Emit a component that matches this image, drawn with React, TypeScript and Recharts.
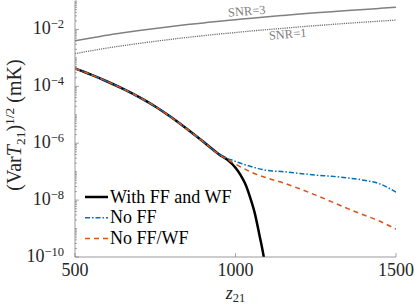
import { LineChart, Line, XAxis, YAxis, Legend, LabelList } from 'recharts';

// redshift grid shared by most curves
const zGrid = [500, 550, 600, 650, 700, 750, 800, 850, 900, 950, 1000, 1050, 1100, 1150, 1200, 1250, 1300, 1350, 1400, 1450, 1500];

// noise levels (mK)
const snr3 = [3.98e-3, 5.0e-3, 6.25e-3, 7.6e-3, 9.1e-3, 1.08e-2, 1.27e-2, 1.48e-2, 1.7e-2, 1.95e-2, 2.2e-2, 2.49e-2, 2.79e-2, 3.11e-2, 3.46e-2, 3.83e-2, 4.22e-2, 4.64e-2, 5.07e-2, 5.52e-2, 6.0e-2];
const snr1 = [1.41e-3, 1.78e-3, 2.22e-3, 2.7e-3, 3.23e-3, 3.83e-3, 4.5e-3, 5.25e-3, 6.04e-3, 6.92e-3, 7.8e-3, 8.84e-3, 9.9e-3, 1.1e-2, 1.23e-2, 1.36e-2, 1.5e-2, 1.65e-2, 1.8e-2, 1.96e-2, 2.13e-2];

// signal curves
const noFF = [4.27e-4, 2.57e-4, 1.48e-4, 8.13e-5, 4.17e-5, 1.95e-5, 8.13e-6, 3.09e-6, 1.12e-6, 3.98e-7, 2.3e-7, 1.5e-7, 1.1e-7, 1.0e-7, 8.7e-8, 7.6e-8, 6.9e-8, 6.0e-8, 5.0e-8, 3.7e-8, 1.9e-8];
const noFFWF = [4.27e-4, 2.57e-4, 1.48e-4, 8.13e-5, 4.17e-5, 1.95e-5, 8.13e-6, 3.09e-6, 1.12e-6, 3.98e-7, 1.85e-7, 9.5e-8, 5.9e-8, 4.0e-8, 2.5e-8, 1.5e-8, 8.7e-9, 5.0e-9, 3.0e-9, 1.8e-9, 9.5e-10];
const zWithFF = [500, 550, 600, 650, 700, 750, 800, 850, 900, 950, 975, 1000, 1015, 1030, 1045, 1060, 1075, 1088, 1095];
const withFF = [4.27e-4, 2.57e-4, 1.48e-4, 8.13e-5, 4.17e-5, 1.95e-5, 8.13e-6, 3.09e-6, 1.12e-6, 3.98e-7, 2.6e-7, 1.38e-7, 7.9e-8, 3.8e-8, 1.3e-8, 3.5e-9, 5.6e-10, 1.0e-10, 3.0e-11];

const xTicks = [500, 1000, 1500];
const yMajorTicks = [1e-10, 1e-8, 1e-6, 1e-4, 1e-2];
const yTickExponents = ['\u221210', '\u22128', '\u22126', '\u22124', '\u22122'];

const legendKeys = ['withFF', 'noFF', 'noFFWF'];
const legendNames = ['With FF and WF', 'No FF', 'No FF/WF'];

const gridData = zGrid.map((z, i) => ({ z, snr3: snr3[i], snr1: snr1[i], noFF: noFF[i], noFFWF: noFFWF[i] }));
const withFFData = zWithFF.map((z, i) => ({ z, withFF: withFF[i] }));

// log ticks, 1..9 in each decade
const yAllTicks: number[] = [];
for (let e = -10; e <= -2; e++) {
  for (let m = 1; m <= 9; m++) yAllTicks.push(m * Math.pow(10, e));
}
yAllTicks.push(1e-1);

const FONT = '"Liberation Serif", "DejaVu Serif", "Times New Roman", serif';
const AXIS = '#808080';
const TEXT = '#262626';
const Y_DOMAIN = [1e-10, 1e-1];

const seriesStyle: Record<string, { stroke: string; width: number; dash?: string }> = {
  withFF: { stroke: '#000000', width: 2.5 },
  noFF: { stroke: '#0072BD', width: 1.5, dash: '5 2 1.5 2' },
  noFFWF: { stroke: '#D95319', width: 1.5, dash: '5 4' },
};

const majorIndex = (v: number) => yMajorTicks.findIndex((t) => Math.abs(t - v) / t < 1e-6);

function LeftTick(props: any) {
  const { x, y, payload } = props;
  const idx = majorIndex(payload.value);
  return (
    <g>
      <line x1={x} x2={x + (idx >= 0 ? 4 : 2)} y1={y} y2={y} stroke={AXIS} strokeWidth={0.7} />
      {idx >= 0 && (
        <text x={x - 11} y={y + 5} textAnchor="end" fontFamily={FONT} fontSize={18} fill={TEXT}>
          10<tspan dy={-6} fontSize={12.5}>{yTickExponents[idx]}</tspan>
        </text>
      )}
    </g>
  );
}

function RightTick(props: any) {
  const { x, y, payload } = props;
  const len = majorIndex(payload.value) >= 0 ? 4 : 2;
  return <line x1={x} x2={x - len} y1={y} y2={y} stroke={AXIS} strokeWidth={0.7} />;
}

function BottomTick(props: any) {
  const { x, y, payload } = props;
  return (
    <g>
      <line x1={x} x2={x} y1={y} y2={y - 4} stroke={AXIS} strokeWidth={0.7} />
      <text x={x} y={y + 19} textAnchor="middle" fontFamily={FONT} fontSize={18} fill={TEXT}>
        {payload.value}
      </text>
    </g>
  );
}

function TopTick(props: any) {
  const { x, y } = props;
  return <line x1={x} x2={x} y1={y} y2={y + 4} stroke={AXIS} strokeWidth={0.7} />;
}

function snrLabel(text: string, at: number, dx: number, dy: number) {
  return (props: any) => {
    if (props.index !== at) return null;
    const vb = props.viewBox || {};
    const x = (vb.x ?? props.x) + dx;
    const y = (vb.y ?? props.y) + dy;
    return (
      <text x={x} y={y} textAnchor="middle" transform={`rotate(-4.5 ${x} ${y})`} fontFamily={FONT} fontSize={12.5} fill="#808080">
        {text}
      </text>
    );
  };
}

function LegendBox() {
  return (
    <svg width={175} height={64} style={{ display: 'block' }}>
      {legendKeys.map((key, i) => {
        const s = seriesStyle[key];
        const cy = 10 + i * 20.8;
        return (
          <g key={key}>
            <line x1={0} x2={23} y1={cy} y2={cy} stroke={s.stroke} strokeWidth={s.width} strokeDasharray={s.dash} />
            <text x={25} y={cy + 5.5} fontFamily={FONT} fontSize={18} fill="#000">
              {legendNames[i]}
            </text>
          </g>
        );
      })}
    </svg>
  );
}

export default function App() {
  return (
    <div style={{ position: 'absolute', left: 0, top: 0, background: '#fff' }}>
      <LineChart width={415} height={306} data={gridData} margin={{ top: 1, right: 19, bottom: 0, left: 0 }}>
        <XAxis
          dataKey="z"
          type="number"
          domain={[500, 1500]}
          ticks={xTicks}
          interval={0}
          allowDataOverflow
          height={49}
          tickSize={0}
          tickMargin={0}
          tickLine={false}
          axisLine={{ stroke: AXIS, strokeWidth: 0.8 }}
          tick={<BottomTick />}
          label={{
            content: (p: any) => {
              const vb = p.viewBox;
              const cx = vb.x + vb.width / 2;
              return (
                <text x={cx} y={vb.y + 42} textAnchor="middle" fontFamily={FONT} fontSize={18} fill={TEXT}>
                  <tspan fontStyle="italic">z</tspan>
                  <tspan dy={3} fontSize={12.5}>21</tspan>
                </text>
              );
            },
          }}
        />
        <XAxis
          xAxisId="top"
          orientation="top"
          type="number"
          domain={[500, 1500]}
          ticks={xTicks}
          interval={0}
          allowDataOverflow
          height={0}
          tickSize={0}
          tickMargin={0}
          tickLine={false}
          axisLine={{ stroke: AXIS, strokeWidth: 0.8 }}
          tick={<TopTick />}
        />
        <YAxis
          scale="log"
          domain={Y_DOMAIN}
          ticks={yAllTicks}
          interval={0}
          allowDataOverflow
          width={75}
          tickSize={0}
          tickMargin={0}
          tickLine={false}
          axisLine={{ stroke: AXIS, strokeWidth: 0.8 }}
          tick={<LeftTick />}
          label={{
            content: (p: any) => {
              const vb = p.viewBox;
              const cx = 21;
              const cy = vb.y + vb.height / 2 - 4;
              return (
                <text x={cx} y={cy} textAnchor="middle" transform={`rotate(-90 ${cx} ${cy})`} fontFamily={FONT} fontSize={20} fill={TEXT}>
                  (Var<tspan fontStyle="italic">T</tspan>
                  <tspan dy={4} fontSize={13.5}>21</tspan>
                  <tspan dy={-4}>)</tspan>
                  <tspan dy={-7} fontSize={13.5}>1/2</tspan>
                  <tspan dy={7}> (mK)</tspan>
                </text>
              );
            },
          }}
        />
        <YAxis
          yAxisId="right"
          orientation="right"
          scale="log"
          domain={Y_DOMAIN}
          ticks={yAllTicks}
          interval={0}
          allowDataOverflow
          width={0}
          tickSize={0}
          tickMargin={0}
          tickLine={false}
          axisLine={{ stroke: AXIS, strokeWidth: 0.8 }}
          tick={<RightTick />}
        />
        <Legend
          layout="vertical"
          align="center"
          verticalAlign="middle"
          content={<LegendBox />}
          wrapperStyle={{ left: 85, top: 186.7, width: 175, height: 64 }}
        />
        <Line dataKey="snr3" stroke="#808080" strokeWidth={1.5} dot={false} type="monotone" legendType="none" isAnimationActive={false}>
          <LabelList dataKey="snr3" content={snrLabel('SNR=3', 11, -4.5, -3)} />
        </Line>
        <Line dataKey="snr1" stroke="#6e6e6e" strokeWidth={1.3} strokeDasharray="1.2 1" dot={false} type="monotone" legendType="none" isAnimationActive={false}>
          <LabelList dataKey="snr1" content={snrLabel('SNR=1', 13, 4.3, 10)} />
        </Line>
        <Line data={withFFData} dataKey="withFF" name="With FF and WF" stroke={seriesStyle.withFF.stroke} strokeWidth={seriesStyle.withFF.width} dot={false} type="monotone" isAnimationActive={false} />
        <Line dataKey="noFF" name="No FF" stroke={seriesStyle.noFF.stroke} strokeWidth={seriesStyle.noFF.width} strokeDasharray={seriesStyle.noFF.dash} dot={false} type="monotone" isAnimationActive={false} />
        <Line dataKey="noFFWF" name="No FF/WF" stroke={seriesStyle.noFFWF.stroke} strokeWidth={seriesStyle.noFFWF.width} strokeDasharray={seriesStyle.noFFWF.dash} dot={false} type="monotone" isAnimationActive={false} />
      </LineChart>
    </div>
  );
}
